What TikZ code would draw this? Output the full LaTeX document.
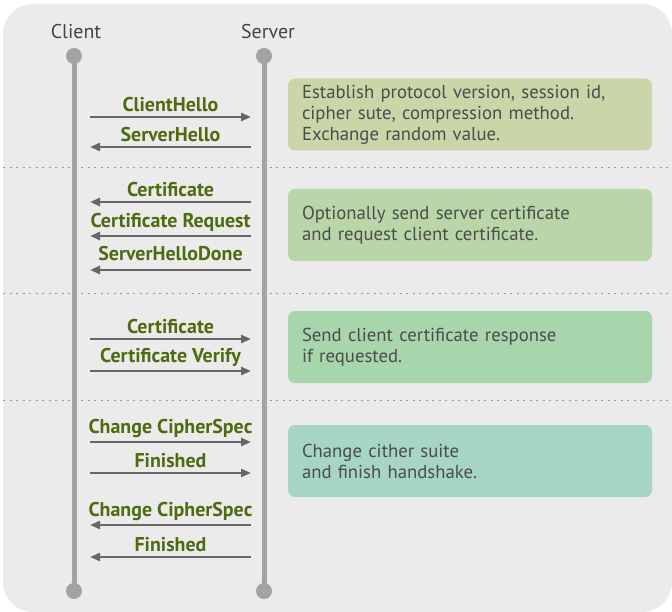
\documentclass[tikz,border=0pt]{standalone}
\usepackage{fontspec}
\setmainfont{PT Sans}
\usepackage{tikz}
\usetikzlibrary{arrows.meta,positioning,calc}
\definecolor{bggray}{HTML}{EBEBEB}
\definecolor{lifegray}{HTML}{A3A3A3}
\definecolor{arrowgray}{HTML}{676767}
\definecolor{msggreen}{HTML}{4E6B10}
\definecolor{headgray}{HTML}{444444}
\definecolor{txtgray}{HTML}{4C4C4C}
\definecolor{boxA}{HTML}{C9D6A8}
\definecolor{boxB}{HTML}{B8D6A8}
\definecolor{boxC}{HTML}{A7D5AC}
\definecolor{boxD}{HTML}{A6D4C5}
\tikzset{
  head/.style={text=headgray, font=\fontsize{20}{22}\selectfont},
  dot/.style={circle, fill=lifegray, minimum size=16bp, inner sep=0pt},
  life/.style={draw=lifegray, line width=5bp},
  msg/.style={draw=arrowgray, line width=2.5bp, -{Triangle[length=10bp,width=8bp]}},
  lbl/.style={text=msggreen, font=\bfseries\fontsize{20}{22}\selectfont, above=2.5bp, inner sep=1bp},
  sep/.style={draw=gray!80, line width=0.8bp, dash pattern=on 2bp off 4.5bp},
  infobox/.style={rounded corners=7bp, minimum width=364bp, minimum height=72bp,
    text width=336bp, align=left, inner xsep=14bp, text=txtgray,
    font=\fontsize{18.8}{21}\selectfont}
}
\begin{document}
\begin{tikzpicture}[x=1bp,y=-1bp]
    \useasboundingbox (0,0) rectangle (672,612);
    \fill[bggray, rounded corners=30bp] (3,4) rectangle (672,612);

    \node[head] (client) at (76,32) {Client};
    \node[head] (server) at (268,32) {Server};

    \draw[sep] (3,167) -- (672,167);
    \draw[sep] (3,293) -- (672,293);
    \draw[sep] (3,400) -- (672,400);

    \node[dot] (cTop) at (74,56) {};
    \node[dot] (cBot) at (74,591) {};
    \node[dot] (sTop) at (264,56) {};
    \node[dot] (sBot) at (264,591) {};
    \draw[life] (cTop.center) -- (cBot.center);
    \draw[life] (sTop.center) -- (sBot.center);

    \coordinate (c1) at (90,117);  \coordinate (s1) at (251,117);
    \coordinate (c2) at (90,147);  \coordinate (s2) at (251,147);
    \coordinate (c3) at (90,202);  \coordinate (s3) at (251,202);
    \coordinate (c4) at (90,236);  \coordinate (s4) at (251,236);
    \coordinate (c5) at (90,270);  \coordinate (s5) at (251,270);
    \coordinate (c6) at (90,339);  \coordinate (s6) at (251,339);
    \coordinate (c7) at (90,371);  \coordinate (s7) at (251,371);
    \coordinate (c8) at (90,442);  \coordinate (s8) at (251,442);
    \coordinate (c9) at (90,473);  \coordinate (s9) at (251,473);
    \coordinate (c10) at (90,525); \coordinate (s10) at (251,525);
    \coordinate (c11) at (90,557); \coordinate (s11) at (251,557);

    \draw[msg] (c1) -- node[lbl] (l1) {ClientHello} (s1);
    \draw[msg] (s2) -- node[lbl] (l2) {ServerHello} (c2);
    \draw[msg] (s3) -- node[lbl] (l3) {Certificate} (c3);
    \draw[msg] (s4) -- node[lbl] (l4) {Certificate Request} (c4);
    \draw[msg] (s5) -- node[lbl, above=7bp] (l5) {ServerHelloDone} (c5);
    \draw[msg] (c6) -- node[lbl] (l6) {Certificate} (s6);
    \draw[msg] (c7) -- node[lbl] (l7) {Certificate Verify} (s7);
    \draw[msg] (c8) -- node[lbl] (l8) {Change CipherSpec} (s8);
    \draw[msg] (c9) -- node[lbl] (l9) {Finished} (s9);
    \draw[msg] (s10) -- node[lbl] (l10) {Change CipherSpec} (c10);
    \draw[msg] (s11) -- node[lbl] (l11) {Finished} (c11);

    \node[infobox, fill=boxA] (info1) at (470,114.5)
      {Establish protocol version, session id,\\cipher sute, compression method.\\Exchange random value.};
    \node[infobox, fill=boxB] (info2) at (470,225)
      {Optionally send server certificate\\and request client certificate.};
    \node[infobox, fill=boxC] (info3) at (470,347)
      {Send client certificate response\\if requested.};
    \node[infobox, fill=boxD] (info4) at (470,461)
      {Change cither suite\\and finish handshake.};
\end{tikzpicture}
\end{document}
